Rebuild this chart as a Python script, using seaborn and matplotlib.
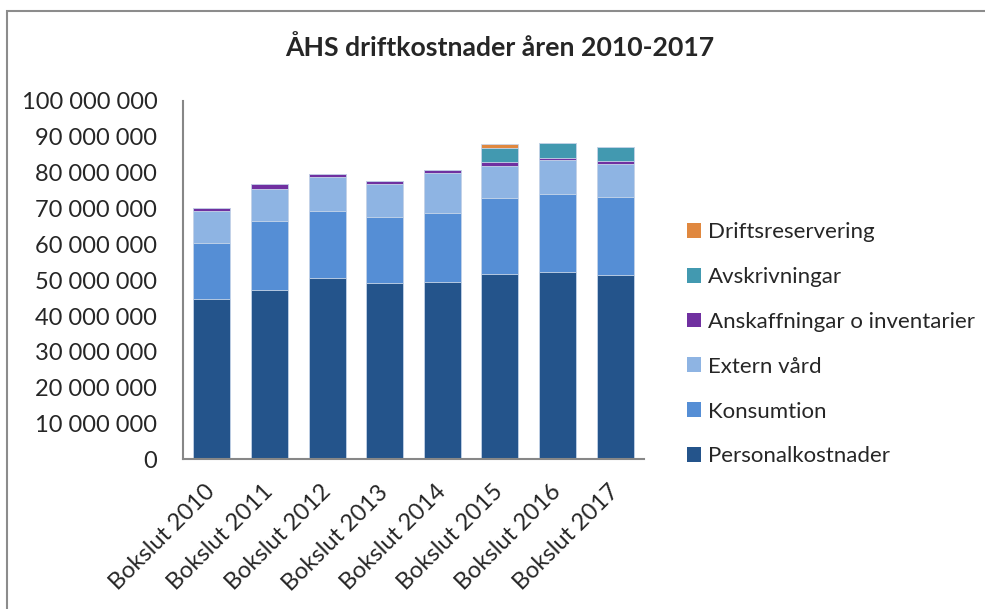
import numpy as np
import pandas as pd
import matplotlib
matplotlib.use("Agg")
import matplotlib.pyplot as plt
from matplotlib.patches import Patch, Rectangle
from matplotlib.ticker import FuncFormatter
import seaborn as sns

# Data (values in kronor)
ar = ["Bokslut 2010", "Bokslut 2011", "Bokslut 2012", "Bokslut 2013",
      "Bokslut 2014", "Bokslut 2015", "Bokslut 2016", "Bokslut 2017"]
personalkostnader = [44.9e6, 47.4e6, 50.7e6, 49.1e6, 49.4e6, 51.6e6, 52.4e6, 51.5e6]
konsumtion = [15.5e6, 19.1e6, 18.7e6, 18.6e6, 19.4e6, 21.4e6, 21.7e6, 21.7e6]
extern_vard = [9.0e6, 9.0e6, 9.3e6, 9.1e6, 11.0e6, 9.0e6, 9.3e6, 9.3e6]
anskaffningar = [0.8e6, 1.4e6, 1.0e6, 0.9e6, 1.0e6, 0.9e6, 0.7e6, 0.7e6]
avskrivningar = [0, 0, 0, 0, 0, 4.1e6, 4.1e6, 3.9e6]
driftsreservering = [0, 0, 0, 0, 0, 1.0e6, 0, 0]

serier = ["Personalkostnader", "Konsumtion", "Extern vård",
          "Anskaffningar o inventarier", "Avskrivningar", "Driftsreservering"]
farger = ["#24548B", "#558ED5", "#8EB4E3", "#7030A0", "#4299B0", "#E0883F"]

df = pd.DataFrame({
    "År": ar,
    "Personalkostnader": personalkostnader,
    "Konsumtion": konsumtion,
    "Extern vård": extern_vard,
    "Anskaffningar o inventarier": anskaffningar,
    "Avskrivningar": avskrivningar,
    "Driftsreservering": driftsreservering,
})
# cumulative tops for stacking
kum = df[serier].cumsum(axis=1)
kum["År"] = df["År"]

sns.set_style("white")
plt.rcParams["font.family"] = ["Lato", "DejaVu Sans"]

fig = plt.figure(figsize=(9.85, 6.09), dpi=100)
ax = fig.add_axes([0.1858, 0.2455, 0.4680, 0.5887])

# draw from the top of the stack downwards so lower segments cover upper ones
for serie, farg in reversed(list(zip(serier, farger))):
    sns.barplot(data=kum, x="År", y=serie, color=farg, width=0.64,
                saturation=1, edgecolor="#c9d7ea", linewidth=0.6, ax=ax)

ax.set_ylim(0, 100e6)
ax.set_xlim(-0.5, 7.5)
ax.set_yticks(np.arange(0, 100e6 + 1, 10e6))
ax.yaxis.set_major_formatter(FuncFormatter(lambda v, p: f"{int(v):,}".replace(",", " ")))
ax.set_xlabel("")
ax.set_ylabel("")
ax.tick_params(axis="y", length=0, pad=18.5, labelsize=17)
ax.tick_params(axis="x", length=0, pad=21, labelsize=17, labelrotation=45)
plt.setp(ax.get_xticklabels(), ha="right", va="center", rotation_mode="anchor")

for s in ["top", "right"]:
    ax.spines[s].set_visible(False)
for s in ["left", "bottom"]:
    ax.spines[s].set_color("#878787")
    ax.spines[s].set_linewidth(1.5)

fig.suptitle("ÅHS driftkostnader åren 2010-2017", x=0.507, y=1 - 48 / 609,
             va="center", fontsize=19.2, fontweight="bold")

handtag = [Patch(facecolor=f, edgecolor="none", label=s)
           for s, f in reversed(list(zip(serier, farger)))]
fig.legend(handles=handtag, loc="upper left", bbox_to_anchor=(0.688, 0.650),
           frameon=False, fontsize=16, handlelength=0.65, handleheight=0.65,
           handletextpad=0.3, labelspacing=1.12, borderaxespad=0)

# chart area border
fig.add_artist(Rectangle((7 / 985, -0.1), 1.2, 1 - 11.5 / 609 + 0.1,
                         transform=fig.transFigure, fill=False,
                         edgecolor="#8c8c8c", linewidth=1.5))

fig.savefig("out.png", dpi=100)
